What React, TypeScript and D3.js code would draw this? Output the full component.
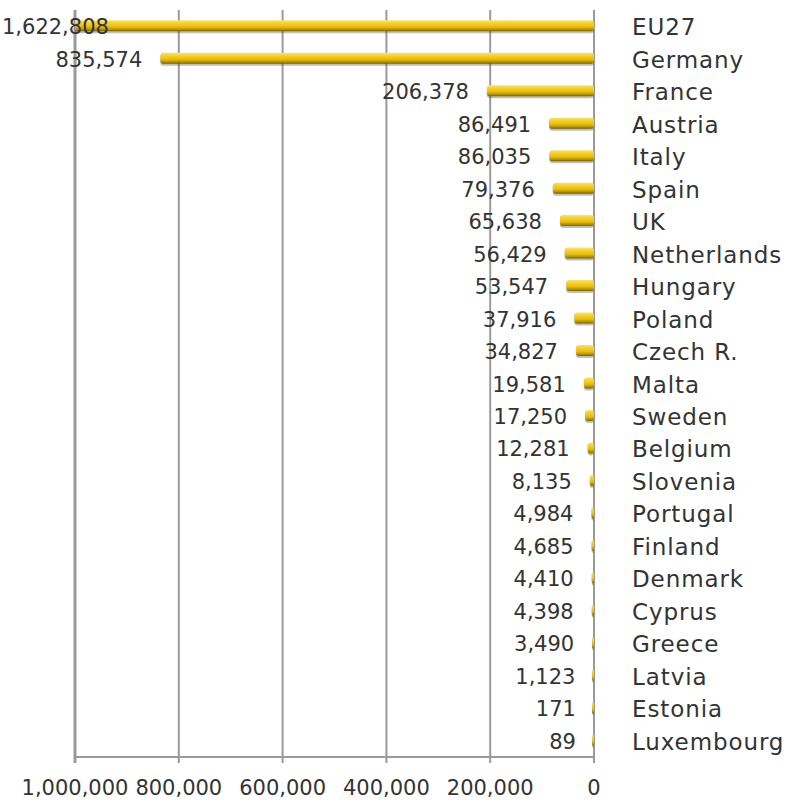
import React from "react";
import * as d3 from "d3";

const categories = ["EU27","Germany","France","Austria","Italy","Spain","UK","Netherlands","Hungary","Poland","Czech R.","Malta","Sweden","Belgium","Slovenia","Portugal","Finland","Denmark","Cyprus","Greece","Latvia","Estonia","Luxembourg"];
const values = [1622808,835574,206378,86491,86035,79376,65638,56429,53547,37916,34827,19581,17250,12281,8135,4984,4685,4410,4398,3490,1123,171,89];
const ticks = [0,200000,400000,600000,800000,1000000];

const W = 789, H = 801;
const left = 75, right = 594, top = 10, bottom = 757;
const FONT = "'DejaVu Sans', sans-serif";

export default function App() {
  const x = d3.scaleLinear().domain([0, 1000000]).range([right, left]);
  const y = d3.scaleBand<string>().domain(categories).range([top, bottom]);
  const fmt = d3.format(",");
  const bh = 12;
  return (
    <svg width={W} height={H} style={{position:"absolute",left:0,top:0,background:"#fff"}}>
      <defs>
        <linearGradient id="bar" x1="0" y1="0" x2="0" y2="1">
          <stop offset="0" stopColor="#f7e27a"/>
          <stop offset="0.25" stopColor="#f5d233"/>
          <stop offset="0.6" stopColor="#e8bd10"/>
          <stop offset="0.85" stopColor="#b38f00"/>
          <stop offset="1" stopColor="#6e5a10"/>
        </linearGradient>
        <clipPath id="plot"><rect x={left} y={0} width={right-left+2} height={H}/></clipPath>
      </defs>
      {ticks.map(t => (
        <line key={t} x1={x(t)} x2={x(t)} y1={top} y2={bottom+6} stroke="#9a9a9a" strokeWidth={t===1000000?3:2}/>
      ))}
      <line x1={left} x2={right} y1={bottom} y2={bottom} stroke="#9a9a9a" strokeWidth={2}/>
      <g clipPath="url(#plot)">
        {values.map((v,i) => {
          const cy = y(categories[i])! + y.bandwidth()/2;
          const x0 = Math.min(x(v), right - 2);
          return (
            <g key={i}>
              <rect x={x0} y={cy-bh/2+1} width={right-x0} height={bh} fill="#5a4a10" opacity={0.35} rx={3}/>
              <rect x={x0} y={cy-bh/2} width={right-x0} height={bh-1} fill="url(#bar)" rx={3}/>
            </g>
          );
        })}
      </g>
      {values.map((v,i) => {
        const cy = y(categories[i])! + y.bandwidth()/2;
        const s = fmt(v);
        const endX = x(v) - 18;
        const approxW = s.length * 12.5;
        const useStart = endX - approxW < 2;
        return (
          <text key={i} x={useStart ? 2 : endX} y={cy+8} textAnchor={useStart?"start":"end"} fontFamily={FONT} fontSize={21} fill="#333">{s}</text>
        );
      })}
      {categories.map((c,i) => {
        const cy = y(c)! + y.bandwidth()/2;
        return <text key={c} x={632} y={cy+9} fontFamily={FONT} fontSize={23} letterSpacing={0.9} fill="#333">{c}</text>;
      })}
      {ticks.map(t => (
        <text key={t} x={x(t)} y={795} textAnchor="middle" fontFamily={FONT} fontSize={21} fill="#333">{fmt(t)}</text>
      ))}
    </svg>
  );
}
